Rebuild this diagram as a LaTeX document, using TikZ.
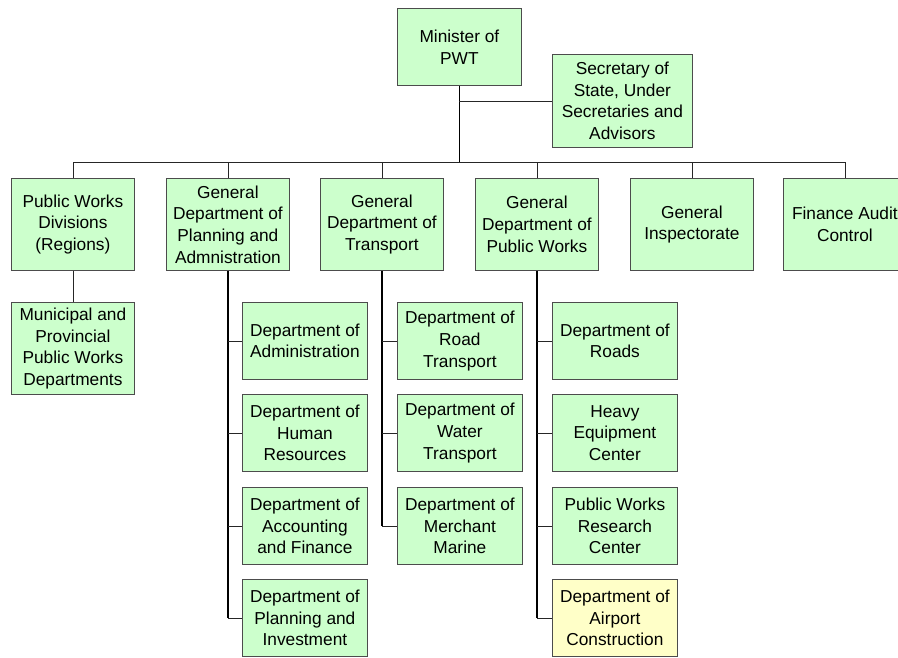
\documentclass[tikz,border=0pt]{standalone}
\usepackage{fontspec}
\setmainfont{Liberation Sans}
\begin{document}
\begin{tikzpicture}[x=1pt,y=-1pt,
  unit/.style={draw=black!70, line width=0.8pt, fill=green!20!white, fill=unitgreen,
    anchor=north west, align=center, inner sep=0pt,
    font=\fontsize{17.3}{21.7}\selectfont},
  top/.style={unit, minimum width=124pt, minimum height=77pt},
  sec/.style={unit, minimum width=140pt, minimum height=93pt},
  gen/.style={unit, minimum width=123pt, minimum height=92pt},
  dept/.style={unit, minimum width=125pt, minimum height=77pt},
  newunit/.style={fill=unityellow},
  link/.style={draw=black!85, line width=0.8pt},
  spine/.style={draw=black, line width=1.4pt}]
\definecolor{unitgreen}{HTML}{CCFFCC}
\definecolor{unityellow}{HTML}{FFFFC8}
\useasboundingbox (0,0) rectangle (898,657);
\clip (0,0) rectangle (898,657);

% top of the hierarchy
\node[top] (min) at (397,8) {Minister of\\PWT};
\node[sec] (sec) at (552,54) {Secretary of\\State, Under\\Secretaries and\\Advisors};

% general departments
\node[gen] (pwd)  at (11,178)  {Public Works\\Divisions\\(Regions)};
\node[gen] (plan) at (166,178) {General\\Department of\\Planning and\\Admnistration};
\node[gen] (tra)  at (320,178) {General\\Department of\\Transport};
\node[gen] (pw)   at (475,178) {General\\Department of\\Public Works};
\node[gen] (insp) at (630,178) {General\\Inspectorate};
\node[gen] (fin)  at (783,178) {Finance Audit\\Control};

% regional offices
\node[gen] (mun) at (11,302) {Municipal and\\Provincial\\Public Works\\Departments};

% planning and administration
\node[dept] (pa) at (242,302) {Department of\\Administration};
\node[dept] (ph) at (242,394) {Department of\\Human\\Resources};
\node[dept] (pf) at (242,487) {Department of\\Accounting\\and Finance};
\node[dept] (pi) at (242,579) {Department of\\Planning and\\Investment};

% transport
\node[dept] (tr) at (397,302) {Department of\\Road\\Transport};
\node[dept] (tw) at (397,394) {Department of\\Water\\Transport};
\node[dept] (tm) at (397,487) {Department of\\Merchant\\Marine};

% public works
\node[dept] (wr) at (552,302) {Department of\\Roads};
\node[dept] (wh) at (552,394) {Heavy\\Equipment\\Center};
\node[dept] (wc) at (552,487) {Public Works\\Research\\Center};
\node[dept,newunit] (wa) at (552,579) {Department of\\Airport\\Construction};

% connectors
\coordinate (bus) at (0,162);
\draw[spine] (min.south) -- (min.south |- bus);
\draw[link] (sec.west) -- (sec.west -| min.south);
\draw[link] (pwd.north) -- (pwd.north |- bus) -- (fin.north |- bus) -- (fin.north);
\foreach \n in {plan,tra,pw,insp}
  \draw[link] (\n.north) -- (\n.north |- bus);
\draw[link] (pwd.south) -- (mun.north);

\draw[spine] (plan.south) -- (plan.south |- pi.west);
\foreach \n in {pa,ph,pf,pi}
  \draw[link] (plan.south |- \n.west) -- (\n.west);
\draw[spine] (tra.south) -- (tra.south |- tm.west);
\foreach \n in {tr,tw,tm}
  \draw[link] (tra.south |- \n.west) -- (\n.west);
\draw[spine] (pw.south) -- (pw.south |- wa.west);
\foreach \n in {wr,wh,wc,wa}
  \draw[link] (pw.south |- \n.west) -- (\n.west);
\end{tikzpicture}
\end{document}
